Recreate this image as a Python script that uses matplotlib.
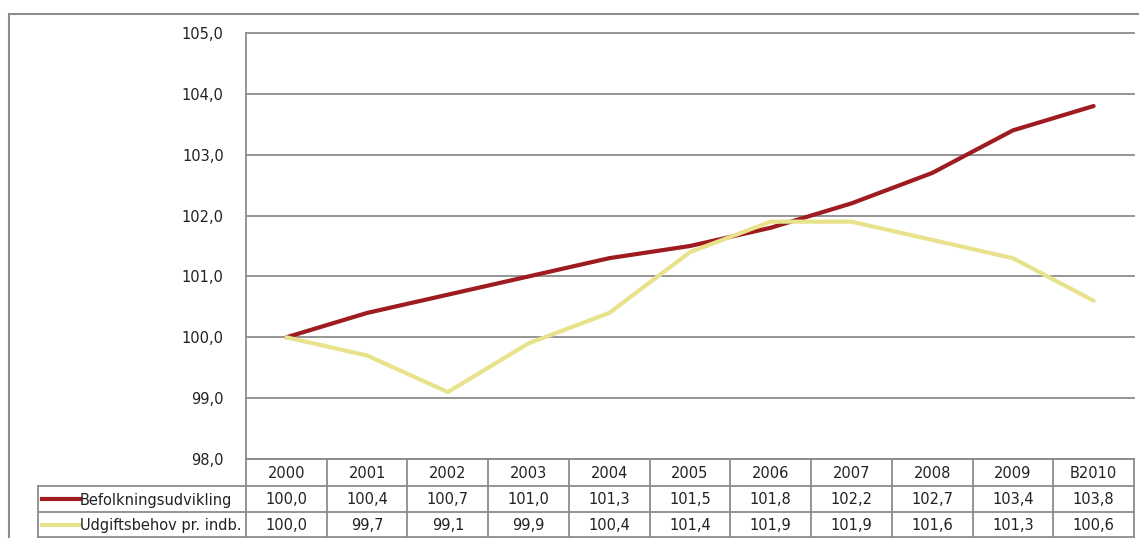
import matplotlib.pyplot as plt
from matplotlib.lines import Line2D

years = ['2000', '2001', '2002', '2003', '2004', '2005', '2006', '2007', '2008', '2009', 'B2010']
befolkning = [100.0, 100.4, 100.7, 101.0, 101.3, 101.5, 101.8, 102.2, 102.7, 103.4, 103.8]
udgift = [100.0, 99.7, 99.1, 99.9, 100.4, 101.4, 101.9, 101.9, 101.6, 101.3, 100.6]
series_names = ['Befolkningsudvikling', 'Udgiftsbehov pr. indb.']
series_colors = ['#9e1b1f', '#e8e28c']
yticks = [98, 99, 100, 101, 102, 103, 104, 105]

W, H = 1139, 538
GRID = '#8c8c8c'
plt.rcParams['font.family'] = 'DejaVu Sans'


def fmt(v):
    return f'{v:.1f}'.replace('.', ',')


fig = plt.figure(figsize=(W / 100, H / 100), dpi=100)

# plot area in pixels
x0, x1, y0, y1 = 246, 1134, 33, 459
ax = fig.add_axes([x0 / W, 1 - y1 / H, (x1 - x0) / W, (y1 - y0) / H])
xs = range(len(years))
for vals, c in zip([befolkning, udgift], series_colors):
    ax.plot(xs, vals, color=c, lw=3, solid_capstyle='round', solid_joinstyle='round')
ax.set_xlim(-0.5, len(years) - 0.5)
ax.set_ylim(98, 105)
ax.set_yticks(yticks)
ax.set_yticklabels([fmt(t) for t in yticks], fontsize=10.5, color='#222222')
ax.tick_params(axis='y', length=0, pad=16)
ax.set_xticks([])
ax.grid(axis='y', color=GRID, lw=1.3)
for gl in ax.get_ygridlines():
    gl.set_clip_on(False)
ax.set_axisbelow(True)
for s in ['top', 'right', 'bottom']:
    ax.spines[s].set_visible(False)
ax.spines['left'].set_color(GRID)
ax.spines['left'].set_linewidth(1.3)

# overlay in pixel coordinates for the frame and data table
ov = fig.add_axes([0, 0, 1, 1], zorder=5)
ov.set_xlim(0, W)
ov.set_ylim(H, 0)
ov.axis('off')
ov.patch.set_visible(False)

# outer frame
ov.plot([9, W], [14, 14], color=GRID, lw=1.5)
ov.plot([9, 9], [14, H], color=GRID, lw=1.5)

rows = [459, 486, 512, 537]
cw = (x1 - x0) / len(years)
tl = 38
kw = dict(color=GRID, lw=1.3)
ov.plot([x0, x1], [rows[0], rows[0]], **kw)
for r in rows[1:]:
    ov.plot([tl, x1], [r, r], **kw)
ov.plot([tl, tl], [rows[1], rows[3]], **kw)
for i in range(len(years) + 1):
    ov.plot([x0 + i * cw] * 2, [rows[0], rows[3]], **kw)

for i, y in enumerate(years):
    ov.text(x0 + (i + 0.5) * cw, (rows[0] + rows[1]) / 2 + 1, y,
            ha='center', va='center', fontsize=10.5, color='#222222')
for k, (vals, name, c) in enumerate(zip([befolkning, udgift], series_names, series_colors)):
    ym = (rows[k + 1] + rows[k + 2]) / 2 + 1
    ov.add_line(Line2D([42, 80], [ym - 1, ym - 1], color=c, lw=3))
    ov.text(80, ym, name, ha='left', va='center', fontsize=10.5, color='#222222')
    for i, v in enumerate(vals):
        ov.text(x0 + (i + 0.5) * cw, ym, fmt(v), ha='center', va='center',
                fontsize=10.5, color='#222222')

fig.savefig('out.png', dpi=100)
